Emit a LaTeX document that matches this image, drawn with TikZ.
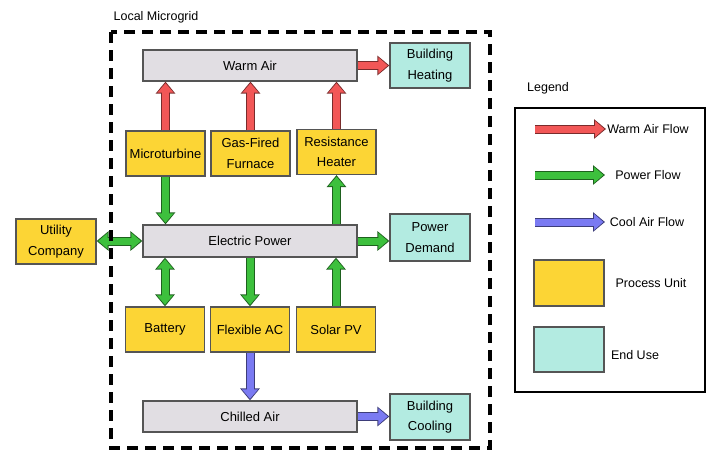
\documentclass[tikz,border=0pt]{standalone}
\usepackage{fontspec}
\setmainfont{Liberation Sans}
\usetikzlibrary{arrows.meta}
\definecolor{busfill}{HTML}{E1DEE3}
\definecolor{procfill}{HTML}{FCD535}
\definecolor{endfill}{HTML}{B3EBE1}
\definecolor{edgec}{HTML}{555555}
\definecolor{flowred}{HTML}{F25757}
\definecolor{flowgreen}{HTML}{3DC03D}
\definecolor{flowblue}{HTML}{7A7AF2}
\tikzset{
  base/.style={draw=edgec, line width=1.2pt, inner sep=0pt, align=center,
    font=\fontsize{13}{20.5}\selectfont, text=black},
  bus/.style={base, fill=busfill, minimum width=214pt, minimum height=31pt},
  proc/.style={base, fill=procfill, minimum width=79pt, minimum height=45pt},
  enduse/.style={base, fill=endfill, minimum width=80pt, minimum height=46pt},
  lbl/.style={inner sep=0pt, font=\fontsize{12.5}{15}\selectfont, text=black},
}
\newcommand\flow[3]{%
  \draw[line width=9pt, draw=#1!50!black, -{Triangle[width=19pt,length=12pt]}] #2 -- #3;
  \draw[line width=7pt, draw=#1, shorten >=1.6pt, -{Triangle[width=15.5pt,length=9.4pt]}] #2 -- #3;
}
\newcommand\dflow[3]{%
  \draw[line width=9pt, draw=#1!50!black, {Triangle[width=19pt,length=12pt]}-{Triangle[width=19pt,length=12pt]}] #2 -- #3;
  \draw[line width=7pt, draw=#1, shorten >=1.6pt, shorten <=1.6pt, {Triangle[width=15.5pt,length=9.4pt]}-{Triangle[width=15.5pt,length=9.4pt]}] #2 -- #3;
}
\begin{document}
\begin{tikzpicture}[x=1pt, y=-1pt]
\useasboundingbox (0,0) rectangle (712,450);

% bus boxes
\node[bus] (warm) at (250,65.5) {Warm Air};
\node[bus, minimum height=32pt] (ep) at (250,241) {Electric Power};
\node[bus] (chill) at (250,416.5) {Chilled Air};

% process units
\node[proc] (micro) at (165.5,153.5) {Microturbine};
\node[proc] (gas) at (250.5,153.5) {Gas-Fired\\Furnace};
\node[proc] (res) at (336.5,152) {Resistance\\Heater};
\node[proc] (batt) at (165,329.5) {Battery};
\node[proc] (flex) at (250,329.5) {Flexible AC};
\node[proc] (solar) at (336,329.5) {Solar PV};
\node[proc, minimum width=80pt] (util) at (56,241.5) {Utility\\Company};

% end uses
\node[enduse, minimum height=45pt] (heat) at (430,65.5) {Building\\Heating};
\node[enduse, minimum height=47pt] (pdem) at (430,237.5) {Power\\Demand};
\node[enduse] (cool) at (430,417) {Building\\Cooling};

% warm air flows
\flow{flowred}{(micro.north)}{(micro.north |- warm.south)}
\flow{flowred}{(gas.north)}{(gas.north |- warm.south)}
\flow{flowred}{(res.north)}{(res.north |- warm.south)}
\flow{flowred}{(warm.east)}{(warm.east -| heat.west)}

% power flows
\flow{flowgreen}{(micro.south)}{(micro.south |- ep.north)}
\flow{flowgreen}{(res.south |- ep.north)}{(res.south)}
\dflow{flowgreen}{(util.east |- ep.west)}{(ep.west)}
\flow{flowgreen}{(ep.east)}{(ep.east -| pdem.west)}
\dflow{flowgreen}{(batt.north |- ep.south)}{(batt.north)}
\flow{flowgreen}{(flex.north |- ep.south)}{(flex.north)}
\flow{flowgreen}{(solar.north)}{(solar.north |- ep.south)}

% cool air flows
\flow{flowblue}{(flex.south)}{(flex.south |- chill.north)}
\flow{flowblue}{(chill.east)}{(chill.east -| cool.west)}

% microgrid boundary
\draw[line width=3.2pt, dash pattern=on 11pt off 7pt] (111,32) rectangle (490,448);
\node[lbl] (mgtitle) at (156,17) {Local Microgrid};

% legend
\node[lbl] (legtitle) at (548,88) {Legend};
\node[draw, line width=2.5pt, minimum width=190pt, minimum height=284pt, inner sep=0pt] (legbox) at (610,250) {};
\coordinate (l1a) at (535,129); \coordinate (l1b) at (606,129);
\coordinate (l2a) at (535,175); \coordinate (l2b) at (605,175);
\coordinate (l3a) at (535,222); \coordinate (l3b) at (605,222);
\flow{flowred}{(l1a)}{(l1b)}
\flow{flowgreen}{(l2a)}{(l2b)}
\flow{flowblue}{(l3a)}{(l3b)}
\node[lbl] (t1) at (648,129) {Warm Air Flow};
\node[lbl] (t2) at (648,175) {Power Flow};
\node[lbl] (t3) at (647,222) {Cool Air Flow};
\node[base, fill=procfill, minimum width=70pt, minimum height=46pt] (sw1) at (569,283) {};
\node[base, fill=endfill, minimum width=70pt, minimum height=45pt] (sw2) at (569,349.5) {};
\node[lbl] (t4) at (651,283) {Process Unit};
\node[lbl] (t5) at (635,355) {End Use};
\end{tikzpicture}
\end{document}
